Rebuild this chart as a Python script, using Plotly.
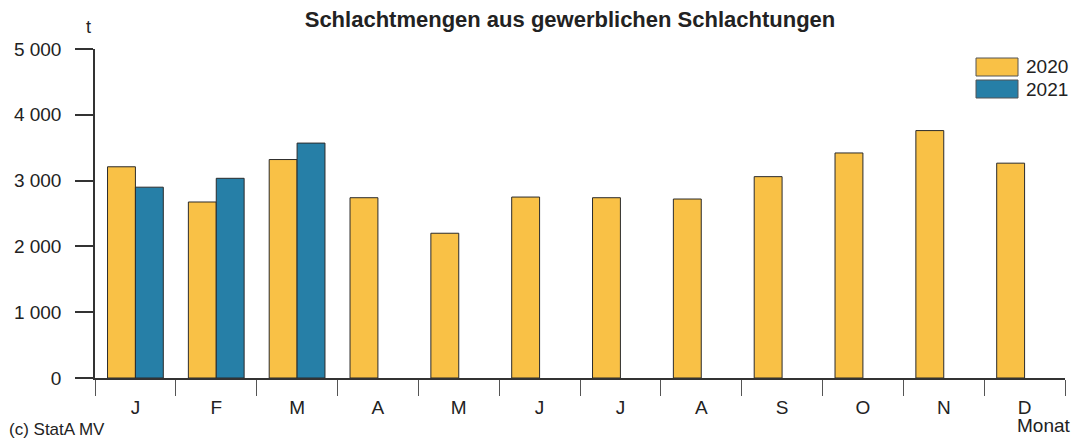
import plotly.graph_objects as go

months = ["J", "F", "M", "A", "M ", "J ", "J  ", "A ", "S", "O", "N", "D"]
month_labels = ["J", "F", "M", "A", "M", "J", "J", "A", "S", "O", "N", "D"]
values_2020 = [3210, 2675, 3320, 2740, 2200, 2750, 2740, 2720, 3060, 3420, 3760, 3265]
values_2021 = [2900, 3035, 3570, None, None, None, None, None, None, None, None, None]
series_names = ["2020", "2021"]
colors = ["#F9C146", "#267FA7"]
y_ticks = [0, 1000, 2000, 3000, 4000, 5000]
y_tick_text = ["0", "1 000", "2 000", "3 000", "4 000", "5 000"]

FONT = "Liberation Sans, Arial, sans-serif"

# page has an 8px body margin; figure is sized/offset to compensate
OFF = 8
W, H = 1086 - OFF, 439 - OFF

fig = go.Figure()
for name, vals, col in zip(series_names, [values_2020, values_2021], colors):
    fig.add_trace(go.Bar(
        x=months, y=vals, name=name,
        marker=dict(color=col, line=dict(color="#2b2b2b", width=1)),
        showlegend=False,
    ))

fig.update_layout(
    width=W, height=H,
    margin=dict(l=95 - OFF, r=21, t=49 - OFF, b=61),
    paper_bgcolor="white", plot_bgcolor="white",
    barmode="group", bargap=0.31, bargroupgap=0,
    font=dict(family=FONT, size=19, color="#222"),
    title=dict(text="<b>Schlachtmengen aus gewerblichen Schlachtungen</b>",
               x=(570 - OFF) / W, xref="container", xanchor="center",
               y=1 - (19 - OFF) / H, yref="container", yanchor="middle",
               font=dict(family=FONT, size=22, color="#222")),
)

fig.update_xaxes(
    type="category", tickmode="array", tickvals=months, ticktext=month_labels,
    showline=True, linecolor="#333", linewidth=1.5,
    ticks="outside", tickson="boundaries", ticklen=16, tickcolor="#555", tickwidth=1,
    ticklabelstandoff=11, automargin=False,
    showgrid=False, zeroline=False,
    tickfont=dict(size=19, family=FONT, color="#222"),
)
fig.update_yaxes(
    range=[0, 5000], tickmode="array", tickvals=y_ticks, ticktext=y_tick_text,
    showline=True, linecolor="#333", linewidth=1.5,
    ticks="outside", ticklen=18, tickcolor="#333", tickwidth=1.5,
    ticklabelstandoff=10, automargin=False,
    showgrid=False, zeroline=False,
    tickfont=dict(size=19, family=FONT, color="#222"),
)

def px_x(px):
    return (px - 95) / 970

def px_y(py):
    return (378 - py) / 329

# Legend drawn manually (large swatches)
for i, (name, col) in enumerate(zip(series_names, colors)):
    top = 58 + i * 22
    fig.add_shape(type="rect", xref="paper", yref="paper",
                  x0=px_x(976), x1=px_x(1018), y0=px_y(top + 18), y1=px_y(top),
                  fillcolor=col, line=dict(color="#555", width=1))
    fig.add_annotation(xref="paper", yref="paper", x=px_x(1024), y=px_y(top + 9),
                       text=name, showarrow=False, xanchor="left", yanchor="middle",
                       font=dict(size=19, family=FONT, color="#222"))

fig.add_annotation(xref="paper", yref="paper", x=px_x(88), y=px_y(27), text="t",
                   showarrow=False, xanchor="center", yanchor="middle",
                   font=dict(size=18, family=FONT, color="#222"))
fig.add_annotation(xref="paper", yref="paper", x=px_x(7), y=px_y(430), text="(c) StatA MV",
                   showarrow=False, xanchor="left", yanchor="middle",
                   font=dict(size=17, family=FONT, color="#222"))
fig.add_annotation(xref="paper", yref="paper", x=px_x(1073), y=px_y(425), text="Monat",
                   showarrow=False, xanchor="right", yanchor="middle",
                   font=dict(size=19, family=FONT, color="#222"))

fig.write_html("out.html")
